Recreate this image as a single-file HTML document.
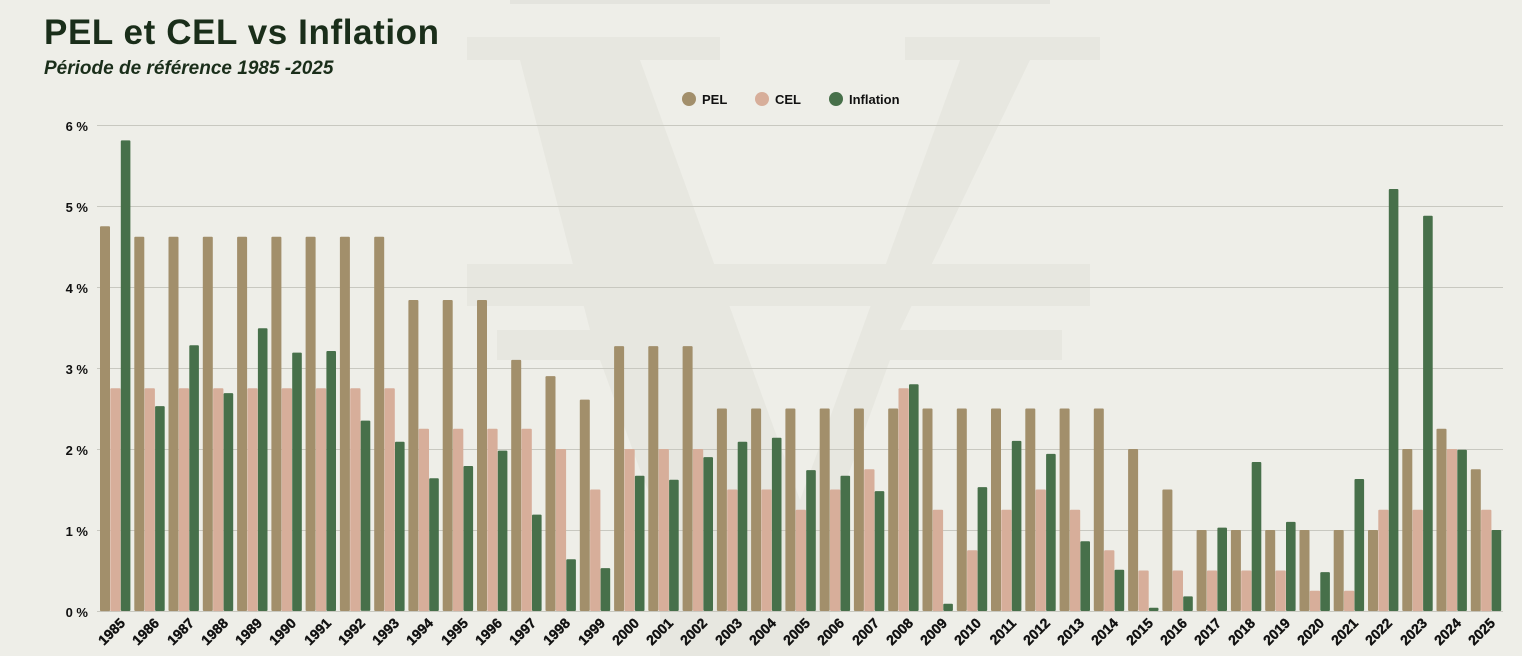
<!DOCTYPE html>
<html><head><meta charset="utf-8"><style>
body{margin:0;background:#eeeee8;width:1522px;height:656px;overflow:hidden;font-family:"Liberation Sans",sans-serif}
</style></head><body>
<svg width="1522" height="656" viewBox="0 0 1522 656" xmlns="http://www.w3.org/2000/svg" style="position:absolute;left:0;top:0">
<rect width="1522" height="656" fill="#eeeee8"/>
<g fill="#e7e7e0">
<polygon points="467,37 720,37 720,60 640,60 800,500 960,60 905,60 905,37 1100,37 1100,60 1030,60 900,330 1062,330 1062,360 890,360 850,470 830,520 830,656 660,656 660,520 640,470 600,360 497,360 497,330 590,330 520,60 467,60"/>
<rect x="467" y="264" width="623" height="42"/>
</g>
<rect x="510" y="0" width="540" height="4" fill="#e4e4de"/>
<text x="44" y="44" font-size="35" font-weight="bold" fill="#1a2e1a" letter-spacing="0.6">PEL et CEL vs Inflation</text>
<text x="44" y="74" font-size="19" font-weight="bold" font-style="italic" fill="#1a2e1a">Période de référence 1985 -2025</text>
<g font-size="13" font-weight="bold" fill="#111">
<circle cx="689" cy="99" r="7" fill="#a28f6b"/><text x="702" y="104">PEL</text>
<circle cx="762" cy="99" r="7" fill="#d7ae9a"/><text x="775" y="104">CEL</text>
<circle cx="836" cy="99" r="7" fill="#47704a"/><text x="849" y="104">Inflation</text>
</g>
<g stroke="#c8c8c0" stroke-width="1">
<line x1="97" x2="1503" y1="125.5" y2="125.5"/><line x1="97" x2="1503" y1="206.5" y2="206.5"/>
<line x1="97" x2="1503" y1="287.5" y2="287.5"/><line x1="97" x2="1503" y1="368.5" y2="368.5"/>
<line x1="97" x2="1503" y1="449.5" y2="449.5"/><line x1="97" x2="1503" y1="530.5" y2="530.5"/>
<line x1="97" x2="1503" y1="611.5" y2="611.5"/>
</g>
<g font-size="13" font-weight="bold" fill="#111" text-anchor="end">
<text x="88" y="131">6 %</text><text x="88" y="212">5 %</text><text x="88" y="293">4 %</text>
<text x="88" y="374">3 %</text><text x="88" y="455">2 %</text><text x="88" y="536">1 %</text><text x="88" y="617">0 %</text>
</g>
<g id="bars"></g>
<g font-size="14" font-weight="bold" fill="#111" text-anchor="end" stroke="#111" stroke-width="0.4">
<text transform="translate(126,624) rotate(-45)">1985</text>
<text transform="translate(160,624) rotate(-45)">1986</text>
<text transform="translate(195,624) rotate(-45)">1987</text>
<text transform="translate(229,624) rotate(-45)">1988</text>
<text transform="translate(263,624) rotate(-45)">1989</text>
<text transform="translate(297,624) rotate(-45)">1990</text>
<text transform="translate(332,624) rotate(-45)">1991</text>
<text transform="translate(366,624) rotate(-45)">1992</text>
<text transform="translate(400,624) rotate(-45)">1993</text>
<text transform="translate(434,624) rotate(-45)">1994</text>
<text transform="translate(469,624) rotate(-45)">1995</text>
<text transform="translate(503,624) rotate(-45)">1996</text>
<text transform="translate(537,624) rotate(-45)">1997</text>
<text transform="translate(571,624) rotate(-45)">1998</text>
<text transform="translate(606,624) rotate(-45)">1999</text>
<text transform="translate(640,624) rotate(-45)">2000</text>
<text transform="translate(674,624) rotate(-45)">2001</text>
<text transform="translate(708,624) rotate(-45)">2002</text>
<text transform="translate(743,624) rotate(-45)">2003</text>
<text transform="translate(777,624) rotate(-45)">2004</text>
<text transform="translate(811,624) rotate(-45)">2005</text>
<text transform="translate(845,624) rotate(-45)">2006</text>
<text transform="translate(880,624) rotate(-45)">2007</text>
<text transform="translate(914,624) rotate(-45)">2008</text>
<text transform="translate(948,624) rotate(-45)">2009</text>
<text transform="translate(982,624) rotate(-45)">2010</text>
<text transform="translate(1017,624) rotate(-45)">2011</text>
<text transform="translate(1051,624) rotate(-45)">2012</text>
<text transform="translate(1085,624) rotate(-45)">2013</text>
<text transform="translate(1119,624) rotate(-45)">2014</text>
<text transform="translate(1154,624) rotate(-45)">2015</text>
<text transform="translate(1188,624) rotate(-45)">2016</text>
<text transform="translate(1222,624) rotate(-45)">2017</text>
<text transform="translate(1256,624) rotate(-45)">2018</text>
<text transform="translate(1291,624) rotate(-45)">2019</text>
<text transform="translate(1325,624) rotate(-45)">2020</text>
<text transform="translate(1359,624) rotate(-45)">2021</text>
<text transform="translate(1393,624) rotate(-45)">2022</text>
<text transform="translate(1428,624) rotate(-45)">2023</text>
<text transform="translate(1462,624) rotate(-45)">2024</text>
<text transform="translate(1496,624) rotate(-45)">2025</text>
</g>
</svg>
<script>
var pel=[4.75,4.62,4.62,4.62,4.62,4.62,4.62,4.62,4.62,3.84,3.84,3.84,3.10,2.90,2.61,3.27,3.27,3.27,2.5,2.5,2.5,2.5,2.5,2.5,2.5,2.5,2.5,2.5,2.5,2.5,2.0,1.5,1.0,1.0,1.0,1.0,1.0,1.0,2.0,2.25,1.75];
var cel=[2.75,2.75,2.75,2.75,2.75,2.75,2.75,2.75,2.75,2.25,2.25,2.25,2.25,2.0,1.5,2.0,2.0,2.0,1.5,1.5,1.25,1.5,1.75,2.75,1.25,0.75,1.25,1.5,1.25,0.75,0.5,0.5,0.5,0.5,0.5,0.25,0.25,1.25,1.25,2.0,1.25];
var inf=[5.81,2.53,3.28,2.69,3.49,3.19,3.21,2.35,2.09,1.64,1.79,1.98,1.19,0.64,0.53,1.67,1.62,1.90,2.09,2.14,1.74,1.67,1.48,2.80,0.09,1.53,2.10,1.94,0.86,0.51,0.04,0.18,1.03,1.84,1.10,0.48,1.63,5.21,4.88,1.99,1.00];
var g=document.getElementById('bars'),s='';
function r(x,w,v,c){var h=v*81;s+='<rect x="'+x.toFixed(1)+'" y="'+(611-h).toFixed(1)+'" width="'+w+'" height="'+h.toFixed(1)+'" fill="'+c+'" rx="1"/>';}
for(var i=0;i<41;i++){var x=100+i*34.27;r(x,10,pel[i],'#a28f6b');r(x+10.3,10.3,cel[i],'#d7ae9a');r(x+20.8,9.6,inf[i],'#47704a');}
g.innerHTML=s;
</script>
</body></html>
